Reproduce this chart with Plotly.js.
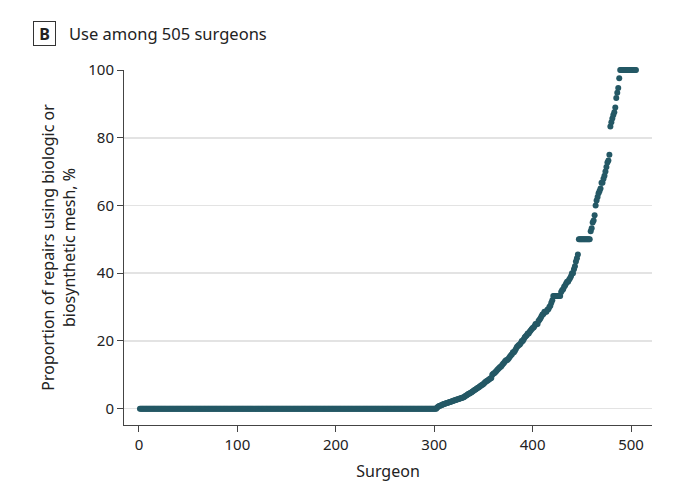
<!DOCTYPE html>
<html>
<head>
<meta charset="utf-8">
<script src="https://cdn.plot.ly/plotly-3.0.1.min.js"></script>
<style>
  body { margin: 0; background: #fff; }
  #chart { width: 680px; height: 499px; }
</style>
</head>
<body>
<div id="chart"></div>
<script>
// surgeons sorted by share of repairs using biologic / biosynthetic mesh
const totalSurgeons = 505;
const zeroSurgeons = 302;   // surgeons 1-302 never used it

// surgeons 303-505
const nonzeroPct = [
  0.4, 0.6, 0.8, 0.9, 1.0, 1.1, 1.3, 1.4, 1.5, 1.6,
  1.7, 1.8, 1.9, 2.0, 2.1, 2.2, 2.3, 2.4, 2.5, 2.6,
  2.7, 2.8, 2.9, 3.0, 3.1, 3.2, 3.3, 3.4, 3.6, 3.8,
  4.0, 4.2, 4.4, 4.5, 4.7, 4.9, 5.1, 5.3, 5.5, 5.7,
  5.9, 6.1, 6.3, 6.5, 6.7, 6.9, 7.1, 7.3, 7.6, 7.9,
  8.1, 8.3, 8.5, 8.7, 8.9, 9.1, 10.0, 10.3, 10.5, 10.8,
  11.1, 11.4, 11.7, 12.0, 12.3, 12.5, 12.9, 13.3, 13.6, 14.0,
  14.3, 14.3, 14.6, 15.0, 15.4, 15.8, 16.1, 16.7, 16.7, 17.1,
  17.6, 18.2, 18.5, 18.8, 19.0, 19.4, 20.0, 20.0, 20.5, 21.1,
  21.4, 21.7, 22.2, 22.2, 22.7, 23.1, 23.5, 23.8, 24.0, 24.4,
  25.0, 25.0, 25.0, 25.9, 26.3, 26.7, 27.3, 27.8, 28.0, 28.6,
  28.6, 28.6, 29.2, 29.4, 30.0, 30.4, 31.3, 32.0,
  33.3, 33.3, 33.3, 33.3, 33.3, 33.3, 33.3, 33.3,
  34.5, 35.0, 35.3, 36.0, 36.4, 37.0, 37.5, 37.5, 38.1, 38.5,
  39.1, 40.0, 40.0, 41.2, 42.1, 43.5, 44.4, 45.5,
  50, 50, 50, 50, 50, 50, 50, 50, 50, 50, 50, 50,
  52.4, 53.3, 55.0, 55.6, 57.1, 60.0, 61.5, 62.5, 63.6, 64.3,
  65.0, 66.7, 66.7, 67.9, 68.8, 70.0, 71.4, 72.7, 73.3, 75.0,
  83.3, 84.6, 85.7, 86.7, 87.5, 88.9, 91.7, 93.3, 94.7, 97.6,
  100, 100, 100, 100, 100, 100, 100, 100, 100, 100,
  100, 100, 100, 100, 100, 100, 100
];

const xTicks = [0, 100, 200, 300, 400, 500];
const yTicks = [0, 20, 40, 60, 80, 100];

var surgeon = [];
var pct = [];
for (var i = 0; i < zeroSurgeons; i++) pct.push(0);
pct = pct.concat(nonzeroPct);
for (var j = 0; j < pct.length; j++) surgeon.push(j + 1);
console.log(pct.length, totalSurgeons);

var font = '"Noto Sans", "Open Sans", sans-serif';
var ink = '#222';

var trace = {
  x: surgeon,
  y: pct,
  type: 'scatter',
  mode: 'markers',
  cliponaxis: false,
  marker: { color: '#245865', size: 6 },
  hoverinfo: 'x+y'
};

var layout = {
  width: 680,
  height: 499,
  margin: { l: 124, r: 28, t: 70, b: 74 },
  paper_bgcolor: '#fff',
  plot_bgcolor: '#fff',
  showlegend: false,
  font: { family: font, color: ink, size: 15 },
  xaxis: {
    range: [-15.2, 521.3],
    tickvals: xTicks,
    ticks: 'outside',
    ticklen: 6,
    tickcolor: '#444',
    showline: true,
    linecolor: '#444',
    linewidth: 1,
    showgrid: false,
    zeroline: false,
    tickfont: { size: 15 },
    title: { text: 'Surgeon', font: { size: 16 }, standoff: 12 }
  },
  yaxis: {
    range: [-4.8, 100],
    tickvals: yTicks,
    ticks: 'outside',
    ticklen: 6,
    tickcolor: '#444',
    showline: true,
    linecolor: '#444',
    linewidth: 1,
    showgrid: true,
    gridcolor: '#e3e3e3',
    gridwidth: 1.5,
    zeroline: false,
    tickfont: { size: 15 },
    title: {
      text: 'Proportion of repairs using biologic or<br>biosynthetic mesh, %',
      font: { size: 16 },
      standoff: 8
    }
  },
  annotations: [
    {
      xref: 'paper', yref: 'paper',
      x: (44 - 124) / 528, y: (425 - 34) / 355,
      xanchor: 'center', yanchor: 'middle',
      text: '<b>B</b>',
      showarrow: false,
      font: { size: 16, color: ink, family: font },
      width: 19, height: 21,
      bordercolor: '#333', borderwidth: 1, borderpad: 1
    },
    {
      xref: 'paper', yref: 'paper',
      x: (67 - 124) / 528, y: (425 - 34) / 355,
      xanchor: 'left', yanchor: 'middle',
      text: 'Use among 505 surgeons',
      showarrow: false,
      font: { size: 16.5, color: ink, family: font }
    }
  ]
};

Plotly.newPlot('chart', [trace], layout, { displayModeBar: false, staticPlot: true });
</script>
</body>
</html>
